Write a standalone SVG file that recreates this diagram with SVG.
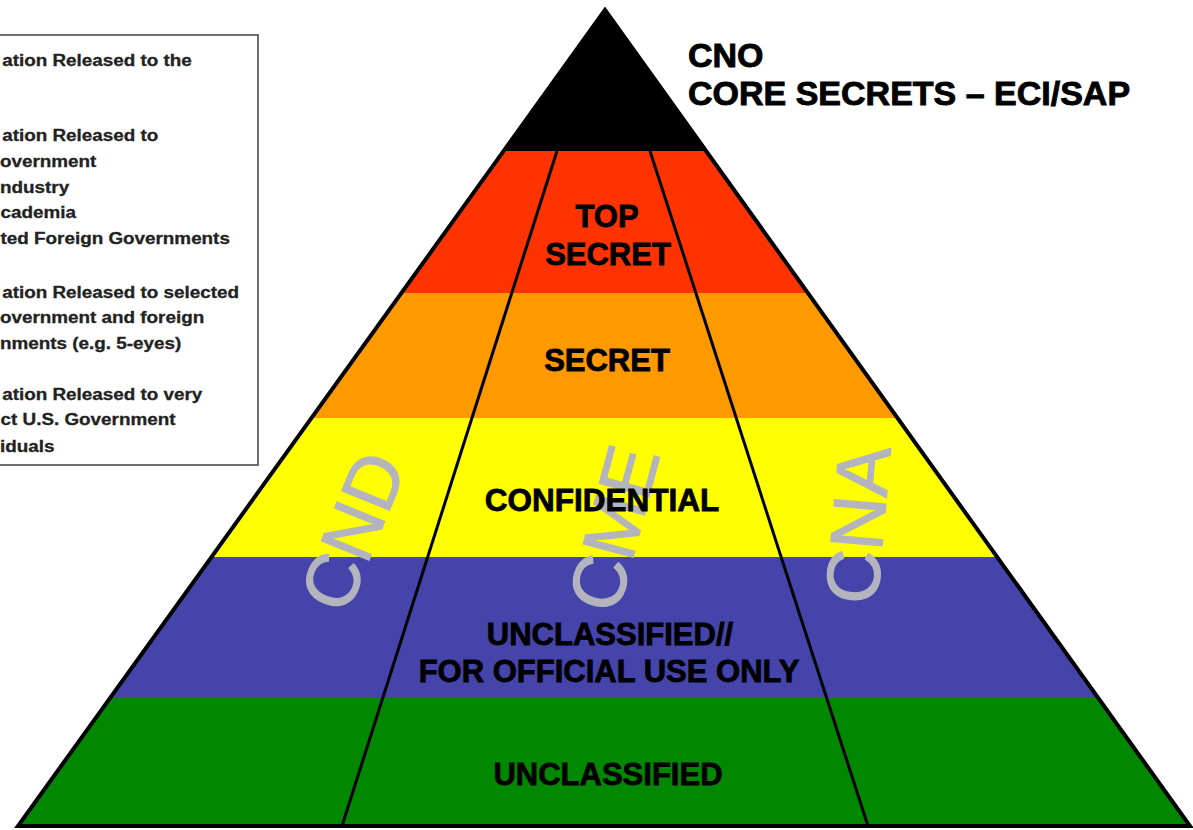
<svg xmlns="http://www.w3.org/2000/svg" width="1193" height="830" viewBox="0 0 1193 830">
<style>
  .lbl{font-family:"Liberation Sans",Arial,sans-serif;font-weight:bold;fill:#000;stroke:#000;stroke-width:0.8;text-anchor:middle}
  .hdr{font-family:"Liberation Sans",Arial,sans-serif;font-weight:bold;fill:#000;stroke:#000;stroke-width:0.9;font-size:34px}
  .leg{font-family:"Liberation Sans",Arial,sans-serif;font-weight:bold;font-size:17px;fill:#222;stroke:#222;stroke-width:0.3}
  .big{font-family:"Liberation Sans",Arial,sans-serif;font-size:75px;fill:#b4b4be;stroke:#b4b4be;stroke-width:1.2;text-anchor:middle}
  .div{stroke:#000;stroke-width:3;fill:none}
</style>
<rect width="1193" height="830" fill="#fff"/>

<g id="legend">
  <rect x="-2" y="35" width="260" height="430" fill="#fff" stroke="#4a4a4a" stroke-width="1.6"/>
  <g transform="scale(1.11,1)">
    <text class="leg" x="2" y="66">ation Released to the</text>
    <text class="leg" x="2" y="141">ation Released to</text>
    <text class="leg" x="0" y="167">overnment</text>
    <text class="leg" x="0" y="193">ndustry</text>
    <text class="leg" x="0.5" y="218">cademia</text>
    <text class="leg" x="0.5" y="244">ted Foreign Governments</text>
    <text class="leg" x="2" y="298">ation Released to selected</text>
    <text class="leg" x="0" y="323">overnment and foreign</text>
    <text class="leg" x="0" y="349">nments (e.g. 5-eyes)</text>
    <text class="leg" x="2" y="400">ation Released to very</text>
    <text class="leg" x="0.5" y="425">ct U.S. Government</text>
    <text class="leg" x="0" y="452">iduals</text>
  </g>
</g>

<g id="band-cno">
  <polygon points="605,10 706.1,151 503.6,151" fill="#000"/>
</g>
<g id="band-topsecret">
  <polygon points="503.6,151 706.1,151 807.9,293 401.4,293" fill="#ff3300"/>
</g>
<g id="band-secret">
  <polygon points="401.4,293 807.9,293 897.5,418 311.5,418" fill="#ff9900"/>
</g>
<g id="band-confidential">
  <polygon points="311.5,418 897.5,418 997.1,557 211.5,557" fill="#ffff00"/>
</g>
<g id="band-fouo">
  <polygon points="211.5,557 997.1,557 1098.2,698 110,698" fill="#4444aa"/>
</g>
<g id="band-unclassified">
  <polygon points="110,698 1098.2,698 1190,826 18,826" fill="#008800"/>
</g>

<g id="connectors">
  <line class="div" x1="557" y1="151" x2="342" y2="826"/>
  <line class="div" x1="650" y1="151" x2="868" y2="826"/>
  <polygon points="605,10 1190,826 18,826" fill="none" stroke="#000" stroke-width="4"/>
</g>

<g id="cnd">
  <text class="big" transform="translate(377,541) rotate(-68)">CND</text>
</g>
<g id="cme">
  <text class="big" font-size="73" transform="translate(639,535) rotate(-75)">CME</text>
</g>
<g id="cna">
  <text class="big" transform="translate(884,527) rotate(-85)">CNA</text>
</g>

<g id="label-topsecret">
  <text class="lbl" x="607" y="227" font-size="31">TOP</text>
  <text class="lbl" x="608" y="265" font-size="31">SECRET</text>
</g>
<g id="label-secret">
  <text class="lbl" x="607" y="371" font-size="31">SECRET</text>
</g>
<g id="label-confidential">
  <text class="lbl" x="602" y="511" font-size="31.5">CONFIDENTIAL</text>
</g>
<g id="label-fouo">
  <text class="lbl" x="610" y="645" font-size="31">UNCLASSIFIED//</text>
  <text class="lbl" x="609" y="682" font-size="31">FOR OFFICIAL USE ONLY</text>
</g>
<g id="label-unclassified">
  <text class="lbl" x="608" y="785" font-size="31">UNCLASSIFIED</text>
</g>

<g id="cno-label">
  <text class="hdr" x="688" y="67">CNO</text>
  <text class="hdr" x="688" y="105">CORE SECRETS – ECI/SAP</text>
</g>
</svg>
